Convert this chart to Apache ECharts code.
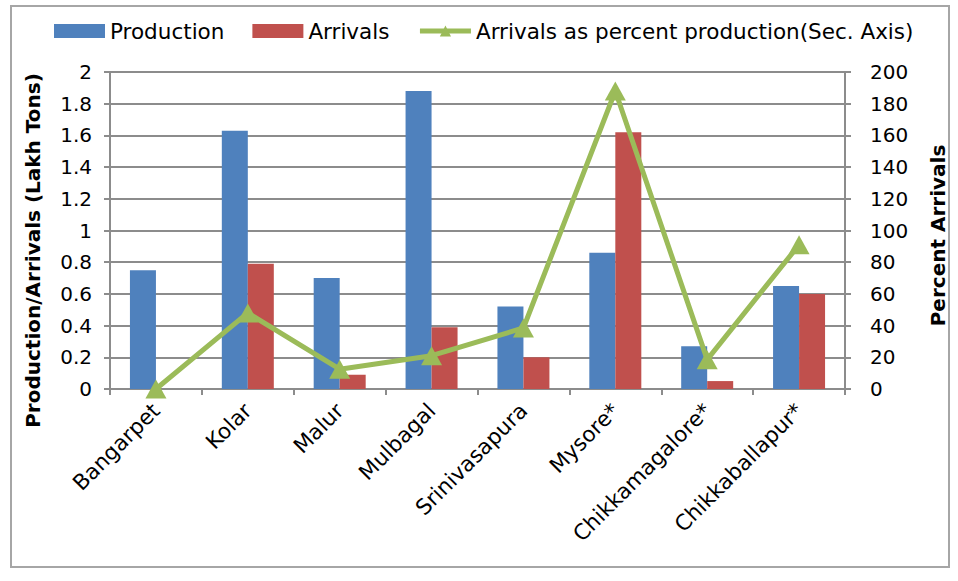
<!DOCTYPE html>
<html>
<head>
<meta charset="utf-8">
<script src="https://cdn.jsdelivr.net/npm/echarts@6/dist/echarts.min.js"></script>
<style>
  html, body { margin: 0; padding: 0; background: #fff; }
  #frame { position: absolute; left: 10px; top: 5px; width: 940px; height: 563px; border: 2px solid #a6a6a6; box-sizing: border-box; }
  #chart { position: absolute; left: 0; top: 0; width: 958px; height: 581px; }
</style>
</head>
<body>
<div id="frame"></div>
<div id="chart"></div>
<script>
// Markets
const categories = ['Bangarpet', 'Kolar', 'Malur', 'Mulbagal', 'Srinivasapura', 'Mysore*', 'Chikkamagalore*', 'Chikkaballapur*'];
// Lakh tons
const production = [0.75, 1.63, 0.70, 1.88, 0.52, 0.86, 0.27, 0.65];
const arrivals = [0, 0.79, 0.09, 0.39, 0.20, 1.62, 0.05, 0.60];
// Arrivals as percent of production
const percentArrivals = [0, 48, 12.5, 21, 38.5, 188, 18.5, 91];

const FONT = '"DejaVu Sans", sans-serif';
const gridColor = '#8c8c8c';

const chart = echarts.init(document.getElementById('chart'), null, { renderer: 'svg' });
chart.setOption({
  animation: false,
  textStyle: { fontFamily: FONT },
  legend: {
    top: 15,
    left: 49,
    itemWidth: 51,
    itemHeight: 14,
    itemGap: 28,
    textStyle: { fontSize: 21.5, color: '#000', fontFamily: FONT },
    data: [
      { name: 'Production', icon: 'rect' },
      { name: 'Arrivals', icon: 'rect' },
      { name: 'Arrivals as percent production(Sec. Axis)', lineStyle: { width: 5, color: '#9BBB59' } }
    ]
  },
  grid: { left: 110, right: 113, top: 72, bottom: 192, containLabel: false },
  xAxis: {
    type: 'category',
    data: categories,
    axisLine: { lineStyle: { color: gridColor, width: 2 } },
    axisTick: { show: true, length: 6, lineStyle: { color: gridColor, width: 2 } },
    axisLabel: { rotate: 45, fontSize: 21.5, color: '#000', margin: 18, fontFamily: FONT }
  },
  yAxis: [
    {
      type: 'value', min: 0, max: 2, interval: 0.2,
      name: 'Production/Arrivals (Lakh Tons)',
      nameLocation: 'middle', nameGap: 67, nameRotate: 90,
      nameTextStyle: { fontSize: 20, fontWeight: 'bold', color: '#000', fontFamily: FONT, padding: [0, 40, 0, 0] },
      axisLine: { show: true, lineStyle: { color: gridColor, width: 2 } },
      axisTick: { show: true, length: 6, lineStyle: { color: gridColor, width: 2 } },
      splitLine: { lineStyle: { color: gridColor, width: 2 } },
      axisLabel: {
        fontSize: 20, color: '#000', margin: 18, fontFamily: FONT,
        formatter: v => String(Math.round(v * 10) / 10)
      }
    },
    {
      type: 'value', min: 0, max: 200, interval: 20,
      name: 'Percent Arrivals',
      nameLocation: 'middle', nameGap: 83, nameRotate: 90,
      nameTextStyle: { fontSize: 20, fontWeight: 'bold', color: '#000', fontFamily: FONT, padding: [0, 10, 0, 0] },
      axisLine: { show: true, lineStyle: { color: gridColor, width: 2 } },
      axisTick: { show: true, length: 6, lineStyle: { color: gridColor, width: 2 } },
      splitLine: { show: false },
      axisLabel: { fontSize: 20, color: '#000', margin: 25, fontFamily: FONT }
    }
  ],
  series: [
    {
      name: 'Production', type: 'bar', data: production,
      barWidth: 26, barGap: '0%',
      itemStyle: { color: '#4F81BD' }
    },
    {
      name: 'Arrivals', type: 'bar', data: arrivals,
      barWidth: 26,
      itemStyle: { color: '#C0504D' }
    },
    {
      name: 'Arrivals as percent production(Sec. Axis)', type: 'line', yAxisIndex: 1,
      data: percentArrivals,
      symbol: 'triangle', symbolSize: [21, 19],
      lineStyle: { color: '#9BBB59', width: 5 },
      itemStyle: { color: '#9BBB59' },
      z: 5
    }
  ]
});
</script>
</body>
</html>
